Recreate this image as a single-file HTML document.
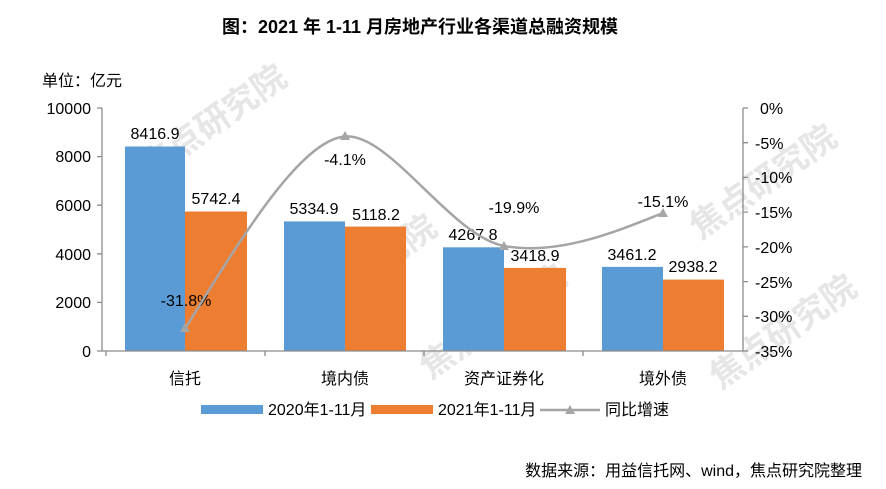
<!DOCTYPE html>
<html><head><meta charset="utf-8"><style>
body{margin:0;background:#fff}
svg{display:block;font-family:"Liberation Sans","Noto Sans CJK SC",sans-serif}
</style></head><body>
<svg width="886" height="489" viewBox="0 0 886 489">
<g font-size="34" font-weight="bold" fill="#e6e6e6">
<text transform="translate(150,180) rotate(-35)">焦点研究院</text>
<text transform="translate(300,330) rotate(-35)">焦点研究院</text>
<text transform="translate(430,380) rotate(-35)">焦点研究院</text>
<text transform="translate(700,240) rotate(-35)">焦点研究院</text>
<text transform="translate(720,390) rotate(-35)">焦点研究院</text>
</g>
<text x="420" y="33" text-anchor="middle" font-size="18" font-weight="bold" fill="#000">图：2021 年 1-11 月房地产行业各渠道总融资规模</text>
<text x="42" y="86" font-size="16" fill="#000">单位：亿元</text>
<g fill="#5b9bd5">
<rect x="125" y="146.5" width="60" height="204.5"/>
<rect x="284" y="221.4" width="61" height="129.6"/>
<rect x="443" y="247.3" width="61" height="103.7"/>
<rect x="602" y="266.9" width="61" height="84.1"/>
</g>
<g fill="#ed7d31">
<rect x="185" y="211.5" width="62" height="139.5"/>
<rect x="345" y="226.6" width="61" height="124.4"/>
<rect x="504" y="267.9" width="62" height="83.1"/>
<rect x="663" y="279.6" width="61" height="71.4"/>
</g>
<g stroke="#8c8c8c" stroke-width="1.3" fill="none">
<path d="M102,108V351H743V108"/>
<path d="M97,108H102M97,156.6H102M97,205.2H102M97,253.8H102M97,302.4H102M97,351H102"/>
<path d="M743,108H748M743,142.7H748M743,177.4H748M743,212.1H748M743,246.9H748M743,281.6H748M743,316.3H748M743,351H748"/>
<path d="M106,351V356M265,351V356M424,351V356M583,351V356"/>
</g>
<g font-size="16" fill="#000" text-anchor="end">
<text x="91" y="114">10000</text><text x="91" y="162">8000</text><text x="91" y="211">6000</text>
<text x="91" y="260">4000</text><text x="91" y="308">2000</text><text x="91" y="357">0</text>
</g>
<g font-size="16" fill="#000">
<text x="760" y="114">0%</text><text x="755" y="149">-5%</text><text x="755" y="183">-10%</text>
<text x="755" y="218">-15%</text><text x="755" y="253">-20%</text><text x="755" y="288">-25%</text>
<text x="755" y="322">-30%</text><text x="755" y="357">-35%</text>
</g>
<g font-size="16" fill="#000" text-anchor="middle">
<text x="185" y="384">信托</text><text x="345" y="384">境内债</text><text x="504" y="384">资产证券化</text><text x="663" y="384">境外债</text>
<text x="155" y="139">8416.9</text><text x="216" y="204">5742.4</text>
<text x="314" y="214">5334.9</text><text x="376" y="220">5118.2</text>
<text x="473" y="240">4267.8</text><text x="535" y="261">3418.9</text>
<text x="632" y="260">3461.2</text><text x="693" y="272">2938.2</text>
<text x="186" y="306">-31.8%</text><text x="345" y="165">-4.1%</text>
<text x="514" y="213">-19.9%</text><text x="663" y="207">-15.1%</text>
</g>
<path d="M185,328.8C240,240 300,140 345,136.5C390,133 450,235 504,246C560,256 620,230 663,213" stroke="#a5a5a5" stroke-width="2.5" fill="none"/>
<g fill="#a5a5a5">
<path d="M185,323l5,9h-10z"/><path d="M345,131l5,9h-10z"/><path d="M504,241l5,9h-10z"/><path d="M663,208l5,9h-10z"/>
</g>
<rect x="201" y="405" width="62" height="9" fill="#5b9bd5"/>
<text x="268" y="415" font-size="16">2020年1-11月</text>
<rect x="371" y="405" width="62" height="9" fill="#ed7d31"/>
<text x="438" y="415" font-size="16">2021年1-11月</text>
<path d="M540,410H600" stroke="#a5a5a5" stroke-width="2.5"/>
<path d="M570,405l5,9h-10z" fill="#a5a5a5"/>
<text x="605" y="415" font-size="16">同比增速</text>
<text x="862" y="476" text-anchor="end" font-size="16">数据来源：用益信托网、wind，焦点研究院整理</text>
</svg>
</body></html>
